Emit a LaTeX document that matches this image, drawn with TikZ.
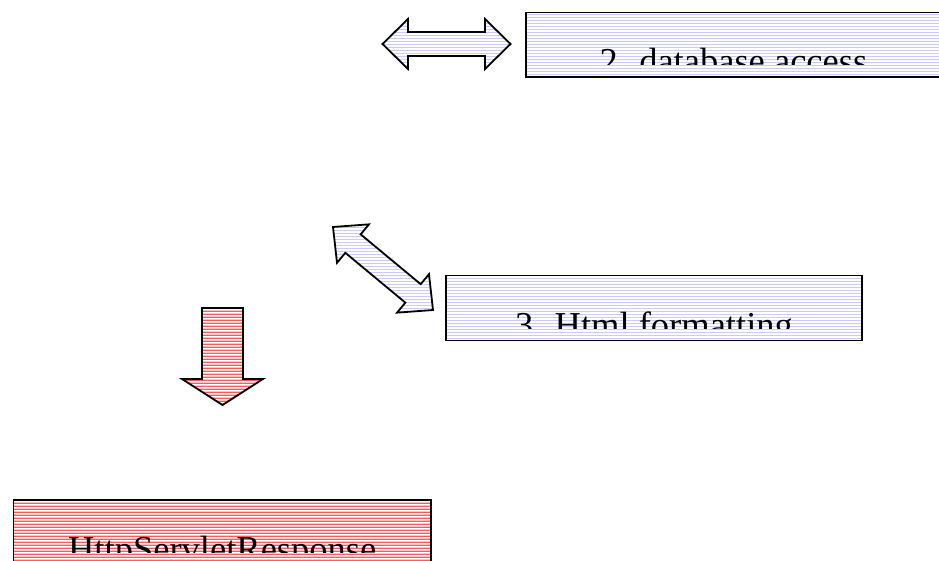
\documentclass[tikz,border=0pt]{standalone}
\usepackage{fontspec}
\setmainfont{Liberation Serif}
\usepackage{tikz}
\usetikzlibrary{patterns, calc}
\definecolor{stripeblue}{RGB}{175,175,255}
\definecolor{stripered}{RGB}{255,0,0}
\pgfdeclarepatternformonly{bluelines}{\pgfpointorigin}{\pgfqpoint{1pt}{3pt}}{\pgfqpoint{1pt}{3pt}}{\pgfpathrectangle{\pgfpointorigin}{\pgfqpoint{1pt}{1.2pt}}\pgfusepath{fill}}
\pgfdeclarepatternformonly{redlines}{\pgfpointorigin}{\pgfqpoint{1pt}{3pt}}{\pgfqpoint{1pt}{3pt}}{\pgfpathrectangle{\pgfpointorigin}{\pgfqpoint{1pt}{1.9pt}}\pgfusepath{fill}}
\tikzstyle{layer} = [rectangle, draw=black, line width=1.4pt, inner sep=0pt, pattern=bluelines, pattern color=stripeblue]
\tikzstyle{reply} = [layer, pattern=redlines, pattern color=stripered]
\tikzstyle{blockarrow} = [draw=black, line width=1.8pt, line join=miter, pattern=bluelines, pattern color=stripeblue]
\tikzstyle{boxtext} = [font=\fontsize{36.5}{40}\selectfont, inner sep=0pt, anchor=base]

\begin{document}
\begin{tikzpicture}[x=1pt, y=-1pt]
    % Frame of the page
    \path[use as bounding box] (0,0) rectangle (939,561);
    \clip (0,0) rectangle (939,561);

    % Boxes
    \node (db) [layer, minimum width=415pt, minimum height=64.7pt] at (733.5,44.7) {};
    \node (html) [layer, minimum width=416pt, minimum height=65pt] at (654,308.2) {};
    \node (resp) [reply, minimum width=417.7pt, minimum height=75pt] at (222.2,537.5) {};

    % Texts, cut off at the lower part of each box
    \begin{scope}
        \clip (db.north west) rectangle ($(db.north east)+(0,53)$);
        \node (dbtext) [boxtext] at ($(db.north)+(0,62)$) {2. database access};
    \end{scope}
    \begin{scope}
        \clip (html.north west) rectangle ($(html.north east)+(0,53)$);
        \node (htmltext) [boxtext] at ($(html.north)+(0,62)$) {3. Html formatting};
    \end{scope}
    \begin{scope}
        \clip (resp.north west) rectangle ($(resp.north east)+(0,53)$);
        \node (resptext) [boxtext] at ($(resp.north)+(0,62)$) {HttpServletResponse};
    \end{scope}

    % Block arrows
    \begin{scope}[shift={(446.5,44)}]
        \draw[blockarrow] (-64,0) -- (-38.5,-25) -- (-38.5,-12) -- (38.5,-12) -- (38.5,-25)
            -- (64,0) -- (38.5,25) -- (38.5,12) -- (-38.5,12) -- (-38.5,25) -- cycle;
    \end{scope}
    \begin{scope}[shift={(383,268.5)}, rotate=-39.7]
        \draw[blockarrow] (-65,0) -- (-39,-25) -- (-39,-12) -- (39,-12) -- (39,-25)
            -- (65,0) -- (39,25) -- (39,12) -- (-39,12) -- (-39,25) -- cycle;
    \end{scope}
    \draw[blockarrow, pattern=redlines, pattern color=stripered]
        (202,308) -- (243,308) -- (243,379) -- (263,379) -- (222.5,405) -- (182,379) -- (202,379) -- cycle;
\end{tikzpicture}
\end{document}
